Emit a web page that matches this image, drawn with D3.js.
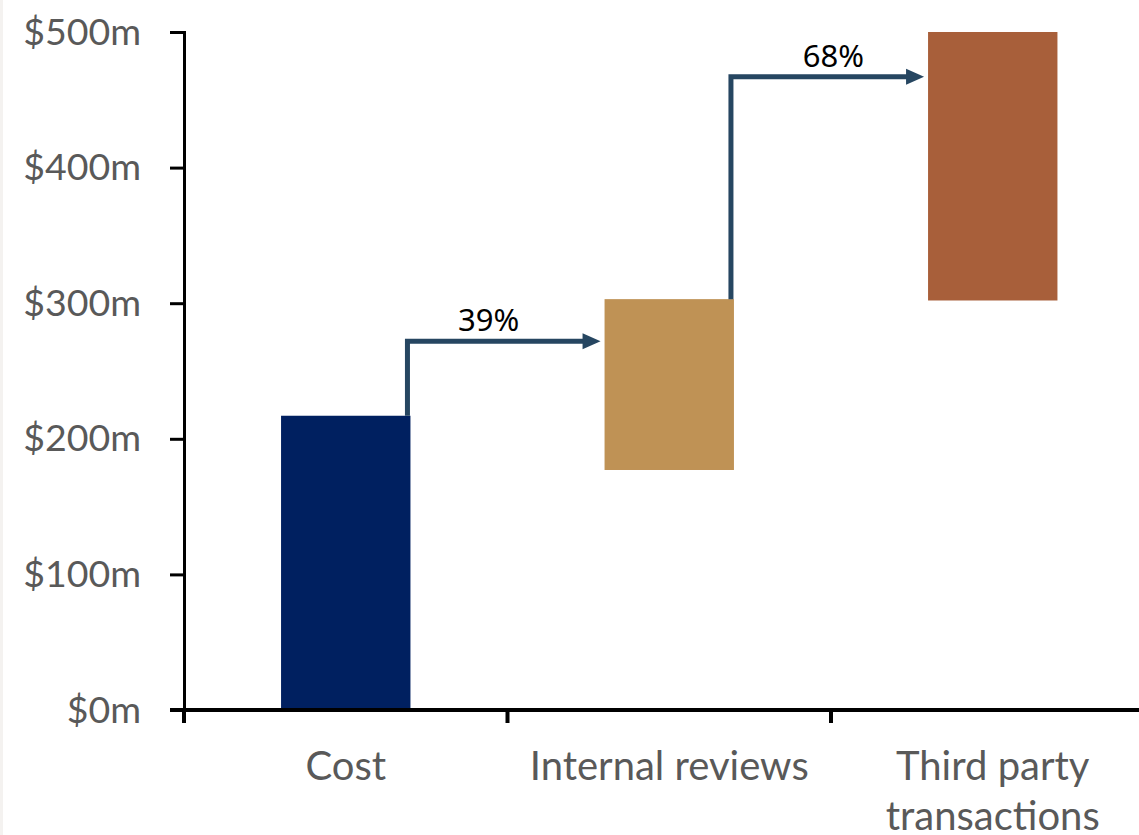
<!DOCTYPE html>
<html>
<head>
<meta charset="utf-8">
<script src="https://cdn.jsdelivr.net/npm/d3@7"></script>
<style>
  body { margin: 0; background: #fff; }
  svg { display: block; }
</style>
</head>
<body>
<svg id="chart" width="1139" height="835"></svg>
<script>
// waterfall steps
const categories = ['Cost', 'Internal reviews', 'Third party transactions'];
const labelLines = [['Cost'], ['Internal reviews'], ['Third party', 'transactions']];
const barStart = [0, 177, 302];
const barEnd = [217, 303, 500];
const colors = ['#002060', '#BF9255', '#A85F3A'];
const arrowLevels = [272, 467];
const arrowLabels = ['39%', '68%'];
const yTicks = [0, 100, 200, 300, 400, 500];

const svg = d3.select('#chart');
const width = +svg.attr('width');
const margin = { top: 32, left: 184 };
const plotBottom = 710;

const x = d3.scaleBand()
  .domain(categories)
  .range([margin.left, 1154.5])
  .padding(0);
const bw = x.bandwidth();

const y = d3.scaleLinear()
  .domain([0, 500])
  .range([plotBottom, margin.top]);

// faint left frame line
svg.append('rect').attr('x', 0).attr('y', 0).attr('width', 3).attr('height', 835).attr('fill', '#f4f2f0');

// bars
svg.selectAll('rect.bar')
  .data(categories)
  .enter().append('rect')
  .attr('class', 'bar')
  .attr('x', d => x(d) + bw * 0.3)
  .attr('width', bw * 0.4)
  .attr('y', (d, i) => y(barEnd[i]))
  .attr('height', (d, i) => y(barStart[i]) - y(barEnd[i]))
  .attr('fill', (d, i) => colors[i]);

// connector arrows
const arrowColor = '#264661';
const labelShift = [0.42, 0.53]; // where along the arrow the % label sits
arrowLevels.forEach((lvl, i) => {
  const x0 = x(categories[i]) + bw * 0.7 - 3;
  const x1 = x(categories[i + 1]) + bw * 0.3 - 4;
  const yStart = y(barEnd[i]);
  const yl = y(lvl);
  svg.append('path')
    .attr('d', `M${x0},${yStart}V${yl}H${x1 - 16}`)
    .attr('fill', 'none')
    .attr('stroke', arrowColor)
    .attr('stroke-width', 5);
  svg.append('path')
    .attr('d', `M${x1 - 18},${yl - 8}L${x1},${yl}L${x1 - 18},${yl + 8}Z`)
    .attr('fill', arrowColor);
  svg.append('text')
    .attr('x', x0 + (x1 - x0) * labelShift[i])
    .attr('y', yl - 10)
    .attr('text-anchor', 'middle')
    .attr('font-family', '"Noto Sans", sans-serif')
    .attr('font-size', 31)
    .attr('fill', '#000')
    .text(arrowLabels[i]);
});

// y axis
const yAxis = d3.axisLeft(y)
  .tickValues(yTicks)
  .tickSize(14)
  .tickPadding(29)
  .tickFormat(d => `$${d}m`);

const yg = svg.append('g')
  .attr('transform', `translate(${margin.left},0)`)
  .call(yAxis);
yg.select('.domain').attr('stroke', '#000').attr('stroke-width', 3);
yg.selectAll('.tick line').attr('stroke', '#000').attr('stroke-width', 3);
yg.selectAll('.tick text')
  .attr('font-family', 'Lato, sans-serif')
  .attr('font-size', 37.5)
  .attr('fill', '#595959');

// x axis line and ticks
svg.append('line')
  .attr('x1', 170).attr('x2', width)
  .attr('y1', plotBottom).attr('y2', plotBottom)
  .attr('stroke', '#000').attr('stroke-width', 4);

svg.selectAll('line.xtick')
  .data(categories)
  .enter().append('line')
  .attr('class', 'xtick')
  .attr('x1', d => x(d)).attr('x2', d => x(d))
  .attr('y1', plotBottom).attr('y2', plotBottom + 13)
  .attr('stroke', '#000').attr('stroke-width', 4);

const xl = svg.selectAll('text.xlabel')
  .data(categories)
  .enter().append('text')
  .attr('class', 'xlabel')
  .attr('text-anchor', 'middle')
  .attr('font-family', 'Lato, sans-serif')
  .attr('font-size', 40)
  .attr('fill', '#595959');

xl.each(function(d, i) {
  const t = d3.select(this);
  labelLines[i].forEach((line, j) => {
    t.append('tspan')
      .attr('x', x(d) + bw / 2)
      .attr('y', 780 + j * 50)
      .text(line);
  });
});
</script>
</body>
</html>
